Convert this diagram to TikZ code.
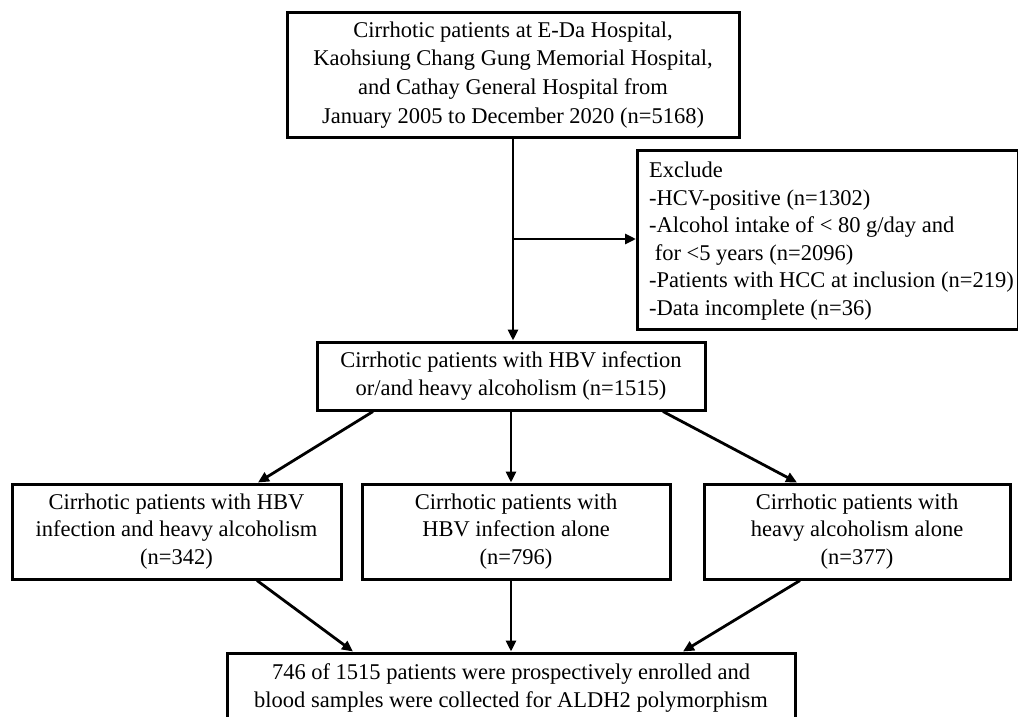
\documentclass[tikz,border=0pt]{standalone}
\usepackage{fontspec}
\setmainfont{Liberation Serif}
\usetikzlibrary{arrows.meta}
\begin{document}
\begin{tikzpicture}[x=1pt,y=-1pt,
  txt/.style={font=\fontsize{22.5}{27.5}\selectfont},
  box/.style={draw, line width=3pt, align=center, inner sep=0pt, txt},
  arr/.style={line width=2.8pt, -{Triangle[length=11pt,width=10pt]}}]
\useasboundingbox (0,0) rectangle (1018,717);
\fill[white] (0,0) rectangle (1018,717);

\node[box, minimum width=452pt, minimum height=124pt, font=\fontsize{22.5}{28.8}\selectfont] (top) at (513,75)
  {Cirrhotic patients at E-Da Hospital,\\Kaohsiung Chang Gung Memorial Hospital,\\and Cathay General Hospital from\\January 2005 to December 2020 (n=5168)};

\node[draw, line width=3pt, minimum width=381pt, minimum height=179pt, anchor=north west, inner sep=0pt] (excl) at (636,149) {};
\node[txt, anchor=north west, align=left, inner sep=0pt] (excltext) at (649,162)
  {Exclude\\-HCV-positive (n=1302)\\-Alcohol intake of < 80 g/day and\\\hspace{0.25em}for <5 years (n=2096)\\-Patients with HCC at inclusion (n=219)\\-Data incomplete (n=36)};

\node[box, minimum width=388pt, minimum height=68pt] (mid) at (511,376)
  {Cirrhotic patients with HBV infection\\or/and heavy alcoholism (n=1515)};

\node[box, minimum width=329pt, minimum height=95pt] (r2l) at (176.5,531.5)
  {Cirrhotic patients with HBV\\infection and heavy alcoholism\\(n=342)};
\node[box, minimum width=308pt, minimum height=95pt] (r2m) at (516,531.5)
  {Cirrhotic patients with\\HBV infection alone\\(n=796)};
\node[box, minimum width=306pt, minimum height=95pt] (r2r) at (857,531.5)
  {Cirrhotic patients with\\heavy alcoholism alone\\(n=377)};

\node[box, minimum width=568pt, minimum height=70pt] (bot) at (511,688)
  {746 of 1515 patients were prospectively enrolled and\\blood samples were collected for ALDH2 polymorphism};

\coordinate (brY) at (0,239);
\coordinate (br) at (top.south |- brY);
\draw[arr] (top.south) -- (top.south |- mid.north);
\draw[arr] (br) -- (br -| excl.west);

\draw[arr] ([xshift=-138pt]mid.south) -- ([xshift=81.5pt]r2l.north);
\draw[arr] (mid.south) -- (mid.south |- r2m.north);
\draw[arr] ([xshift=152pt]mid.south) -- ([xshift=-60pt]r2r.north);

\draw[arr] ([xshift=80.5pt]r2l.south) -- ([xshift=-158pt]bot.north);
\draw[arr] (bot.north |- r2m.south) -- (bot.north);
\draw[arr] ([xshift=-57pt]r2r.south) -- ([xshift=172pt]bot.north);
\end{tikzpicture}
\end{document}
